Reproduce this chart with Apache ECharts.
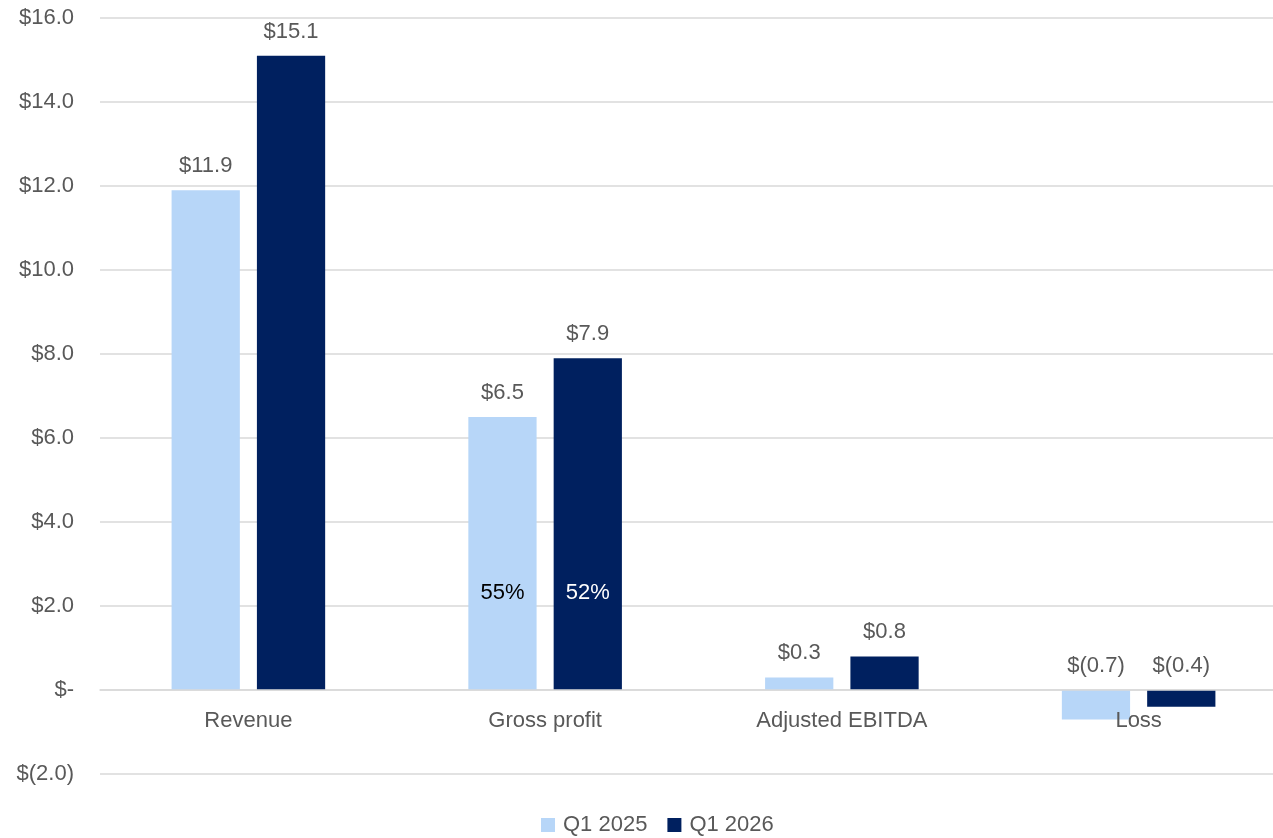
<!DOCTYPE html>
<html>
<head>
<meta charset="utf-8">
<script src="https://cdn.jsdelivr.net/npm/echarts@6/dist/echarts.min.js"></script>
<style>html,body{margin:0;padding:0;background:#fff}#c{width:1273px;height:838px}</style>
</head>
<body>
<div id="c"></div>
<script>
const categories = ['Revenue', 'Gross profit', 'Adjusted EBITDA', 'Loss'];
const q1_2025 = [11.9, 6.5, 0.3, -0.7];
const q1_2026 = [15.1, 7.9, 0.8, -0.4];
const marginCategory = 'Gross profit';
const margin2025 = '55%';
const margin2026 = '52%';
const marginLabelY = 2.3;
const yMin = -2, yMax = 16, yStep = 2;

function money(v) {
  if (Math.abs(v) < 1e-9) return '$-';
  if (v < 0) return '$(' + Math.abs(v).toFixed(1) + ')';
  return '$' + v.toFixed(1);
}
const txt = '#595959';
const ff = 'Liberation Sans, Arial, sans-serif';
const fs = 22;
const H = 838, gTop = 18, gBottom = 64;
const plotH = H - gTop - gBottom;
const zeroOffset = -(0 - yMin) / (yMax - yMin) * plotH;
const chart = echarts.init(document.getElementById('c'));
chart.setOption({
  animation: false,
  grid: { left: 100, width: 1187, top: gTop, bottom: gBottom, containLabel: false, outerBoundsMode: 'none' },
  legend: {
    bottom: -3, left: 536, itemWidth: 14, itemHeight: 14, itemGap: 20,
    icon: 'rect',
    textStyle: { color: txt, fontSize: fs, fontFamily: ff, padding: [0, 0, 0, 3] }
  },
  xAxis: {
    type: 'category', data: categories, z: 5,
    offset: zeroOffset,
    axisLine: { onZero: false, lineStyle: { color: '#d9d9d9', width: 1.5 } },
    axisTick: { show: false },
    axisLabel: { color: txt, fontSize: fs, margin: 20, fontFamily: ff }
  },
  yAxis: {
    type: 'value', min: yMin, max: yMax, interval: yStep,
    axisLabel: { color: txt, fontSize: fs, margin: 26, formatter: money, fontFamily: ff },
    splitLine: { lineStyle: { color: '#d9d9d9', width: 1.5 } },
    axisLine: { show: false }, axisTick: { show: false }
  },
  series: [
    {
      name: 'Q1 2025', type: 'bar', data: q1_2025, barWidth: '23%', barGap: '25%',
      itemStyle: { color: '#B7D6F8' },
      label: { show: true, position: 'top', distance: 13, color: txt, fontSize: fs,
        fontFamily: ff, formatter: p => money(p.value) },
      markPoint: {
        symbol: 'rect', symbolSize: 1, itemStyle: { color: 'rgba(0,0,0,0)' },
        label: { show: true, position: 'inside', color: '#000', fontSize: fs, fontFamily: ff, formatter: margin2025 },
        data: [{ coord: [marginCategory, marginLabelY], value: margin2025 }]
      }
    },
    {
      name: 'Q1 2026', type: 'bar', data: q1_2026, barWidth: '23%', barGap: '25%',
      itemStyle: { color: '#00205F' },
      label: { show: true, position: 'top', distance: 13, color: txt, fontSize: fs,
        fontFamily: ff, formatter: p => money(p.value) },
      markPoint: {
        symbol: 'rect', symbolSize: 1, itemStyle: { color: 'rgba(0,0,0,0)' },
        label: { show: true, position: 'inside', color: '#fff', fontSize: fs, fontFamily: ff, formatter: margin2026 },
        data: [{ coord: [marginCategory, marginLabelY], value: margin2026 }]
      }
    }
  ]
});
</script>
</body>
</html>
